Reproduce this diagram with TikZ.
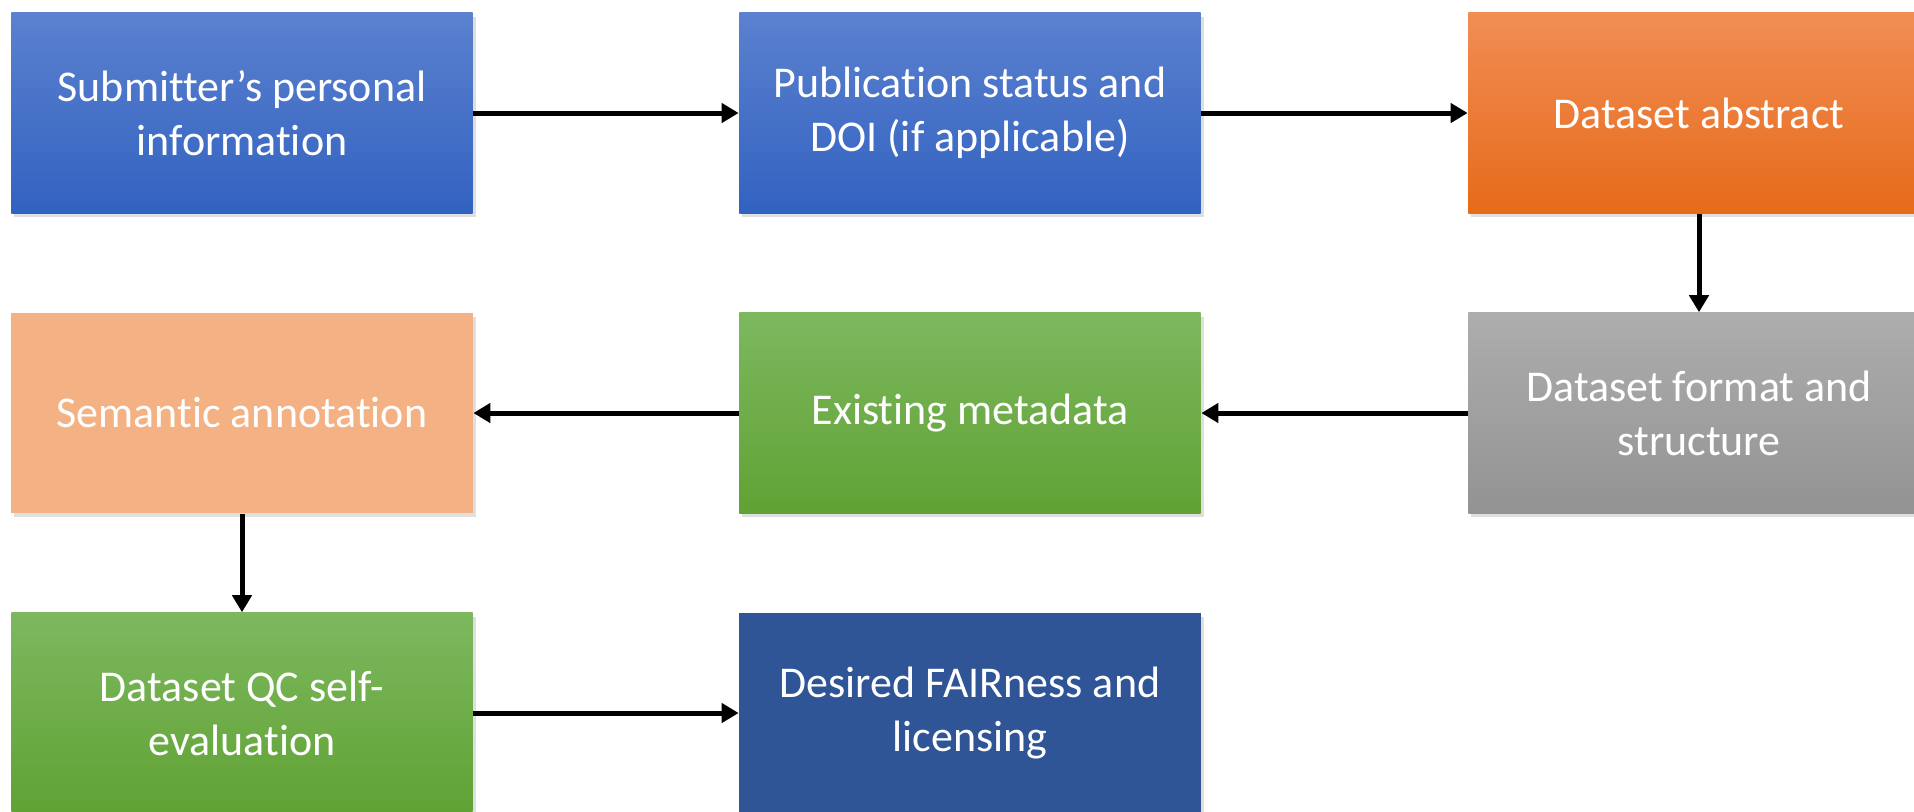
\documentclass[tikz,border=0pt]{standalone}
\usepackage{fontspec}
\setmainfont{Carlito}[Ligatures={NoCommon}]
\usetikzlibrary{arrows.meta,shadows}

\definecolor{blueTop}{HTML}{5B81CF}
\definecolor{blueBot}{HTML}{3262C0}
\definecolor{orangeTop}{HTML}{F18D55}
\definecolor{orangeBot}{HTML}{E66B19}
\definecolor{grayTop}{HTML}{ADADAD}
\definecolor{grayBot}{HTML}{939393}
\definecolor{greenTop}{HTML}{7DB85F}
\definecolor{greenBot}{HTML}{60A234}
\definecolor{peach}{HTML}{F4B183}
\definecolor{navy}{HTML}{2F5597}

\tikzset{
  stepbox/.style={rectangle, minimum width=4.61cm, minimum height=2cm,
    inner sep=0pt, align=center, text=white,
    font=\fontsize{12.5}{15.4}\selectfont,
    drop shadow={shadow xshift=0.03cm, shadow yshift=-0.04cm, opacity=0.25}},
  bluebox/.style={stepbox, top color=blueTop, bottom color=blueBot},
  orangebox/.style={stepbox, top color=orangeTop, bottom color=orangeBot},
  graybox/.style={stepbox, top color=grayTop, bottom color=grayBot},
  greenbox/.style={stepbox, top color=greenTop, bottom color=greenBot},
  peachbox/.style={stepbox, fill=peach},
  navybox/.style={stepbox, fill=navy},
  flow/.style={line width=0.05cm, -{Triangle[length=0.17cm, width=0.19cm]}}
}

\begin{document}
\begin{tikzpicture}[x=0.01cm, y=-0.01cm]
  \fill[white] (0,0) rectangle (1914,811);
  \useasboundingbox (0,0) rectangle (1914,811);

  % row 1
  \node[bluebox]   (personal) at (242,113)  {Submitter’s personal\\information};
  \node[bluebox]   (pub)      at (970,113)  {Publication status and\\DOI (if applicable)};
  \node[orangebox] (abstract) at (1699,113) {Dataset abstract};
  % row 2
  \node[peachbox]  (semantic) at (242,413)  {Semantic annotation};
  \node[greenbox]  (meta)     at (970,413)  {Existing metadata};
  \node[graybox]   (format)   at (1699,413) {Dataset format and\\structure};
  % row 3
  \node[greenbox]  (qc)       at (242,713)  {Dataset QC self-\\evaluation};
  \node[navybox]   (fair)     at (970,713)  {Desired FAIRness and\\licensing};

  % connectors
  \draw[flow] (personal.east) -- (pub.west);
  \draw[flow] (pub.east) -- (abstract.west);
  \draw[flow] (abstract.south) -- (format.north);
  \draw[flow] (format.west) -- (meta.east);
  \draw[flow] (meta.west) -- (semantic.east);
  \draw[flow] (semantic.south) -- (qc.north);
  \draw[flow] (qc.east) -- (fair.west);
\end{tikzpicture}
\end{document}
